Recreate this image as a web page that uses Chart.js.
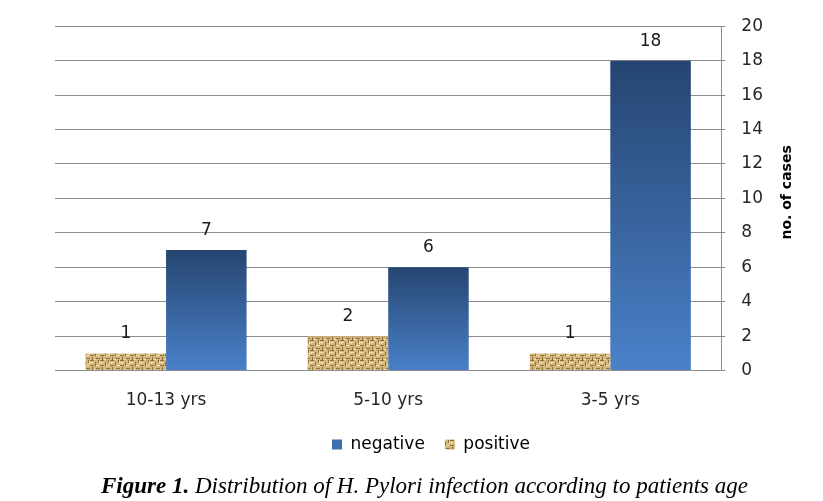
<!DOCTYPE html>
<html>
<head>
<meta charset="utf-8">
<script src="https://cdn.jsdelivr.net/npm/chart.js@4/dist/chart.umd.min.js"></script>
<style>
  html, body { margin: 0; padding: 0; background: #fff; }
  #wrap { position: relative; width: 823px; height: 474px; }
  #caption {
    position: absolute; left: 13px; top: 473px; width: 823px; text-align: center;
    font-family: 'Liberation Serif', 'DejaVu Serif', serif; font-style: italic;
    font-size: 23px; color: #000;
  }
</style>
</head>
<body>
<div id="wrap"><canvas id="ageChart"></canvas></div>
<div id="caption"><b>Figure 1.</b> Distribution of H. Pylori infection according to patients age</div>
<script>
// data
const ageGroups = ['10-13 yrs', '5-10 yrs', '3-5 yrs'];
const positiveCases = [1, 2, 1];
const negativeCases = [7, 6, 18];
const yTicks = [0, 2, 4, 6, 8, 10, 12, 14, 16, 18, 20];

const labelFont = "'DejaVu Sans', sans-serif";
Chart.defaults.font.family = labelFont;
Chart.defaults.color = '#262626';

// burlap-like texture for the positive bars
function makeBurlap() {
    const c = document.createElement('canvas');
    c.width = 10; c.height = 10;
    const g = c.getContext('2d');
    g.fillStyle = '#d3b67c';
    g.fillRect(0, 0, 10, 10);
    g.fillStyle = '#8f713c';
    g.fillRect(0, 0, 4, 1); g.fillRect(5, 2, 1, 4); g.fillRect(0, 5, 4, 1);
    g.fillRect(8, 0, 1, 3); g.fillRect(6, 8, 4, 1); g.fillRect(2, 7, 1, 3);
    g.fillStyle = '#efdcae';
    g.fillRect(0, 2, 4, 1); g.fillRect(6, 5, 4, 1); g.fillRect(4, 9, 2, 1);
    g.fillRect(9, 1, 1, 3); g.fillRect(1, 3, 1, 1);
    return g.createPattern(c, 'repeat');
}
const burlap = makeBurlap();

// per-bar vertical gradient, dark at the top
function blueGradient(context) {
    const chart = context.chart;
    const y = chart.scales.y;
    if (!y || context.parsed === undefined) return '#3d6fad';
    const top = y.getPixelForValue(context.parsed.y);
    const bottom = y.getPixelForValue(0);
    const grad = chart.ctx.createLinearGradient(0, top, 0, bottom);
    grad.addColorStop(0, '#254570');
    grad.addColorStop(1, '#4a81c9');
    return grad;
}

// values above the bars
const valueLabels = {
    id: 'valueLabels',
    afterDatasetsDraw(chart) {
        const ctx = chart.ctx;
        ctx.save();
        ctx.font = '17px ' + labelFont;
        ctx.fillStyle = '#1a1a1a';
        ctx.textAlign = 'center';
        ctx.textBaseline = 'bottom';
        chart.data.datasets.forEach((ds, i) => {
            chart.getDatasetMeta(i).data.forEach((bar, j) => {
                ctx.fillText(ds.data[j], bar.x, bar.y - 11);
            });
        });
        ctx.restore();
    }
};

// axis title reads bottom-to-top on the right side
const yTitle = {
    id: 'yTitle',
    afterDraw(chart) {
        const ctx = chart.ctx;
        const a = chart.chartArea;
        ctx.save();
        ctx.translate(787, (a.top + a.bottom) / 2 - 6);
        ctx.rotate(-Math.PI / 2);
        ctx.font = 'bold 14px ' + labelFont;
        ctx.fillStyle = '#000';
        ctx.textAlign = 'center';
        ctx.textBaseline = 'middle';
        ctx.fillText('no. of cases', 0, 0);
        ctx.restore();
    }
};

// nudge the legend a little right and up, as in the figure
const legendShift = {
    id: 'legendShift',
    afterLayout(chart) {
        if (chart.legend) {
            chart.legend.left += 14;
            chart.legend.right += 14;
            chart.legend.top -= 7;
            chart.legend.bottom -= 7;
        }
    }
};

new Chart(document.getElementById('ageChart'), {
    type: 'bar',
    data: {
        labels: ageGroups,
        datasets: [
            {
                label: 'positive',
                data: positiveCases,
                backgroundColor: burlap,
                categoryPercentage: 0.725,
                barPercentage: 1
            },
            {
                label: 'negative',
                data: negativeCases,
                backgroundColor: blueGradient,
                categoryPercentage: 0.725,
                barPercentage: 1
            }
        ]
    },
    options: {
        responsive: true,
        maintainAspectRatio: false,
        animation: false,
        layout: { padding: { left: 55, right: 44, top: 26, bottom: 4 } },
        plugins: {
            tooltip: { enabled: false },
            legend: {
                position: 'bottom',
                reverse: true,
                labels: {
                    boxWidth: 10,
                    boxHeight: 10,
                    padding: 20,
                    font: { size: 17 },
                    color: '#262626',
                    generateLabels(chart) {
                        return [
                            { text: 'positive', fillStyle: burlap, strokeStyle: 'transparent', lineWidth: 0, datasetIndex: 0 },
                            { text: 'negative', fillStyle: '#3d6fad', strokeStyle: 'transparent', lineWidth: 0, datasetIndex: 1 }
                        ];
                    }
                }
            }
        },
        scales: {
            x: {
                grid: { display: false },
                border: { color: '#8c8c8c' },
                ticks: { font: { size: 17 }, color: '#262626', padding: 12 }
            },
            y: {
                position: 'right',
                min: 0,
                max: 20,
                afterBuildTicks(axis) { axis.ticks = yTicks.map(v => ({ value: v })); },
                grid: { color: '#8c8c8c', lineWidth: 1, tickLength: 4 },
                border: { display: true, color: '#8c8c8c' },
                ticks: { font: { size: 17 }, color: '#262626', padding: 16 }
            }
        }
    },
    plugins: [valueLabels, yTitle, legendShift]
});
</script>
</body>
</html>
